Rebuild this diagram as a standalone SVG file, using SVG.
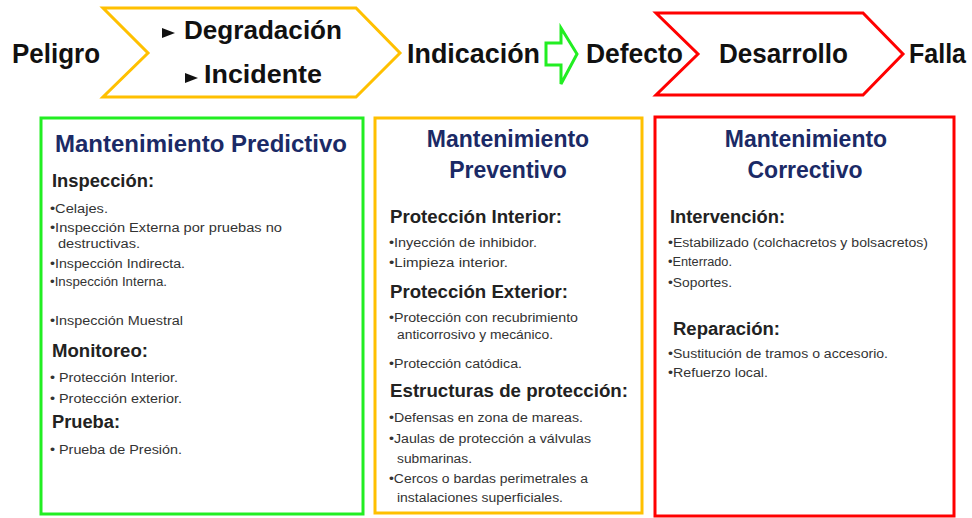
<svg xmlns="http://www.w3.org/2000/svg" width="972" height="518" viewBox="0 0 972 518">
<style>
.top{font-family:"Liberation Sans",Arial,sans-serif;font-weight:bold;font-size:27px;fill:#111}
.ttl{font-family:"Liberation Sans",Arial,sans-serif;font-weight:bold;font-size:23px;fill:#1b2a66}
.hd{font-family:"Liberation Sans",Arial,sans-serif;font-weight:bold;font-size:18px;fill:#222}
.it{font-family:"Liberation Sans",Arial,sans-serif;font-size:12px;fill:#333}
.box{fill:#fff;stroke-width:3}
</style>
<rect width="972" height="518" fill="#fff"/>
<g id="peligro"><text class="top" x="12" y="63" textLength="88" lengthAdjust="spacingAndGlyphs">Peligro</text></g>
<g id="chevron-degradacion">
<polygon points="103,8 356,8 400,53 356,97 103,97 148,53" fill="#fff" stroke="#FFC000" stroke-width="3"/>
<polygon points="162,28 175,33 162,38" fill="#111"/>
<text class="top" style="font-size:25px" x="184" y="39" textLength="158" lengthAdjust="spacingAndGlyphs">Degradación</text>
<polygon points="185,73 198,78 185,83" fill="#111"/>
<text class="top" style="font-size:25px" x="204" y="83" textLength="118" lengthAdjust="spacingAndGlyphs">Incidente</text>
</g>
<g id="indicacion"><text class="top" x="407" y="63" textLength="133" lengthAdjust="spacingAndGlyphs">Indicación</text></g>
<g id="defecto"><text class="top" x="586" y="63" textLength="97" lengthAdjust="spacingAndGlyphs">Defecto</text></g>
<g id="chevron-desarrollo">
<polygon points="656,13 863,13 903,54 863,95 656,95 698,54" fill="#fff" stroke="#FF0000" stroke-width="3"/>
<text class="top" x="719" y="63" textLength="129" lengthAdjust="spacingAndGlyphs">Desarrollo</text>
</g>
<g id="falla"><text class="top" x="909" y="63" textLength="57" lengthAdjust="spacingAndGlyphs">Falla</text></g>
<g id="connectors">
<polygon points="546,43 561,43 561,28 577,54 561,84 561,65 546,65" fill="#fff" stroke="#22EE22" stroke-width="3" stroke-linejoin="miter"/>
</g>
<g id="predictivo">
<rect class="box" x="41" y="118" width="322" height="396" stroke="#22EE22"/>
<text class="ttl" x="55" y="152" textLength="292" lengthAdjust="spacingAndGlyphs">Mantenimiento Predictivo</text>
<text class="hd" x="52" y="187" textLength="102" lengthAdjust="spacingAndGlyphs">Inspección:</text>
<text class="it" x="50" y="213" textLength="58" lengthAdjust="spacingAndGlyphs">•Celajes.</text>
<text class="it" x="50" y="232" textLength="232" lengthAdjust="spacingAndGlyphs">•Inspección  Externa por pruebas no</text>
<text class="it" x="58" y="248" textLength="82" lengthAdjust="spacingAndGlyphs">destructivas.</text>
<text class="it" x="50" y="268" textLength="135" lengthAdjust="spacingAndGlyphs">•Inspección Indirecta.</text>
<text class="it" x="50" y="286" textLength="117" lengthAdjust="spacingAndGlyphs">•Inspección  Interna.</text>
<text class="it" x="50" y="325" textLength="133" lengthAdjust="spacingAndGlyphs">•Inspección Muestral</text>
<text class="hd" x="52" y="357" textLength="96" lengthAdjust="spacingAndGlyphs">Monitoreo:</text>
<text class="it" x="50" y="382" textLength="128" lengthAdjust="spacingAndGlyphs">• Protección Interior.</text>
<text class="it" x="50" y="403" textLength="132" lengthAdjust="spacingAndGlyphs">• Protección exterior.</text>
<text class="hd" x="52" y="428" textLength="68" lengthAdjust="spacingAndGlyphs">Prueba:</text>
<text class="it" x="50" y="454" textLength="132" lengthAdjust="spacingAndGlyphs">• Prueba de Presión.</text>
</g>
<g id="preventivo">
<rect class="box" x="375" y="118" width="267" height="395" stroke="#FFC000"/>
<text class="ttl" x="508" y="147" text-anchor="middle">Mantenimiento</text>
<text class="ttl" x="508" y="178" text-anchor="middle">Preventivo</text>
<text class="hd" x="390" y="223" textLength="172" lengthAdjust="spacingAndGlyphs">Protección Interior:</text>
<text class="it" x="389" y="247" textLength="148" lengthAdjust="spacingAndGlyphs">•Inyección de inhibidor.</text>
<text class="it" x="389" y="267" textLength="119" lengthAdjust="spacingAndGlyphs">•Limpieza interior.</text>
<text class="hd" x="390" y="298" textLength="178" lengthAdjust="spacingAndGlyphs">Protección Exterior:</text>
<text class="it" x="389" y="322" textLength="189" lengthAdjust="spacingAndGlyphs">•Protección con recubrimiento</text>
<text class="it" x="397" y="339" textLength="156" lengthAdjust="spacingAndGlyphs">anticorrosivo y mecánico.</text>
<text class="it" x="389" y="368" textLength="133" lengthAdjust="spacingAndGlyphs">•Protección catódica.</text>
<text class="hd" x="390" y="397" textLength="238" lengthAdjust="spacingAndGlyphs">Estructuras de protección:</text>
<text class="it" x="389" y="422" textLength="194" lengthAdjust="spacingAndGlyphs">•Defensas en zona de mareas.</text>
<text class="it" x="389" y="443" textLength="202" lengthAdjust="spacingAndGlyphs">•Jaulas de protección a válvulas</text>
<text class="it" x="397" y="463" textLength="75" lengthAdjust="spacingAndGlyphs">submarinas.</text>
<text class="it" x="389" y="483" textLength="199" lengthAdjust="spacingAndGlyphs">•Cercos o bardas perimetrales a</text>
<text class="it" x="397" y="502" textLength="166" lengthAdjust="spacingAndGlyphs">instalaciones superficiales.</text>
</g>
<g id="correctivo">
<rect class="box" x="655" y="117" width="299" height="399" stroke="#FF0000"/>
<text class="ttl" x="806" y="147" text-anchor="middle">Mantenimiento</text>
<text class="ttl" x="805" y="178" text-anchor="middle">Correctivo</text>
<text class="hd" x="670" y="223" textLength="115" lengthAdjust="spacingAndGlyphs">Intervención:</text>
<text class="it" x="668" y="247" textLength="260" lengthAdjust="spacingAndGlyphs">•Estabilizado (colchacretos y bolsacretos)</text>
<text class="it" x="668" y="266" textLength="64" lengthAdjust="spacingAndGlyphs">•Enterrado.</text>
<text class="it" x="668" y="287" textLength="64" lengthAdjust="spacingAndGlyphs">•Soportes.</text>
<text class="hd" x="673" y="335" textLength="107" lengthAdjust="spacingAndGlyphs">Reparación:</text>
<text class="it" x="668" y="358" textLength="220" lengthAdjust="spacingAndGlyphs">•Sustitución de tramos o accesorio.</text>
<text class="it" x="668" y="377" textLength="100" lengthAdjust="spacingAndGlyphs">•Refuerzo local.</text>
</g>
</svg>
